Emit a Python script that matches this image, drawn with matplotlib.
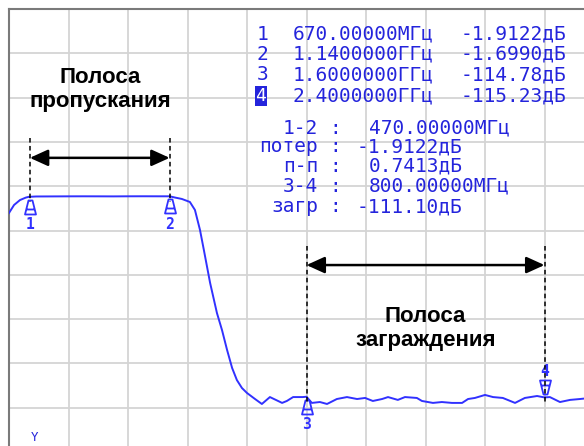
import matplotlib
matplotlib.use('Agg')
import matplotlib.pyplot as plt
import numpy as np
from matplotlib.path import Path

# trace (frequency in MHz, level in dB)
freq_mhz = [600, 617, 637, 657, 667, 691, 720, 760, 800, 850, 900, 950, 1000, 1050,
            1100, 1140, 1158, 1181, 1208, 1225, 1242, 1255, 1276, 1299, 1316, 1333,
            1350, 1366, 1383, 1400, 1427, 1450, 1477, 1497, 1518, 1534, 1555, 1588,
            1600, 1618, 1645, 1669, 1702, 1736, 1770, 1797, 1823, 1854, 1874, 1907,
            1931, 1971, 1988, 2025, 2055, 2089, 2123, 2143, 2166, 2200, 2227, 2260,
            2301, 2334, 2375, 2400, 2418, 2452, 2486, 2519, 2553]
level_db = [-11.1, -6.6, -3.8, -2.4, -2.0, -1.8, -1.78, -1.75, -1.72, -1.7, -1.72,
            -1.75, -1.7, -1.68, -1.7, -1.7, -2.4, -3.2, -4.9, -9.4, -20.7, -32.0,
            -50.6, -67.6, -77.2, -88.4, -98.6, -105.4, -109.9, -112.7, -116.1, -118.9,
            -115.0, -116.6, -118.3, -117.2, -115.0, -115.0, -114.8, -118.3, -117.8,
            -118.9, -116.1, -115.0, -116.1, -115.5, -117.2, -116.1, -115.0, -116.6,
            -115.0, -115.5, -117.2, -118.3, -117.8, -118.3, -118.3, -116.1, -115.5,
            -113.8, -115.0, -115.5, -118.3, -115.5, -114.4, -115.2, -115.0, -117.8,
            -116.6, -116.1, -115.5]

# markers
marker_ids = ['1', '2', '3', '4']
marker_freq = [670, 1140, 1600, 2400]
marker_db = [-1.9122, -1.6990, -114.78, -115.23]
marker_freq_txt = ['670.00000МГц', '1.1400000ГГц', '1.6000000ГГц', '2.4000000ГГц']
marker_db_txt = ['-1.9122дБ', '-1.6990дБ', '-114.78дБ', '-115.23дБ']

stat_labels = ['1-2', 'потер', 'п-п', '3-4', 'загр']
stat_values = ['470.00000МГц', '-1.9122дБ', '0.7413дБ', '800.00000МГц', '-111.10дБ']

pass_band = (670, 1140)
stop_band = (1600, 2400)
pass_arrow_db = 20
stop_arrow_db = -40.5

W, H = 584, 446
BLUE = '#3131ff'
TXT_BLUE = '#2424dc'


def px(x, y):
    return x / W, 1 - y / H


fig = plt.figure(figsize=(W / 100, H / 100), dpi=100)
ax = fig.add_axes([9 / W, (H - 452) / H, 595 / W, 443 / H])
ax.set_xlim(600, 2600)
ax.set_ylim(-146, 104)
ax.set_xticks(np.arange(600, 2601, 200))
ax.set_yticks(np.arange(-146, 105, 25))
ax.tick_params(length=0, labelbottom=False, labelleft=False)
ax.grid(True, color='#d4d4d4', linewidth=1.3)
ax.set_axisbelow(True)
for side in ['left', 'top']:
    ax.spines[side].set_color('#7a7a7a')
    ax.spines[side].set_linewidth(1.5)
for side in ['right', 'bottom']:
    ax.spines[side].set_visible(False)

# trace
ax.plot(freq_mhz, level_db, color=BLUE, linewidth=1.4, zorder=3)

# marker glyphs (px units, apex at the trace)
verts = [(-2, -3), (-5.5, -17), (5.5, -17), (2, -3), (-2, -3), (-4.5, -12), (4.5, -12)]
codes = [Path.MOVETO, Path.LINETO, Path.LINETO, Path.LINETO, Path.CLOSEPOLY,
         Path.MOVETO, Path.LINETO]
below = Path(verts, codes)
above = Path([(x, -y) for x, y in verts], codes)
ms = 2 * 17 * 0.72

for mid, f, db in zip(marker_ids, marker_freq, marker_db):
    up = mid == '4'
    ax.plot([f], [db], marker=above if up else below, markersize=ms,
            markerfacecolor='none', markeredgecolor=BLUE, markeredgewidth=1.3, zorder=4)
    ax.annotate(mid, (f, db), xytext=(0, 19 if up else -20), textcoords='offset points',
                ha='center', va='center', color=BLUE, fontsize=10.5,
                family='DejaVu Sans Mono', fontweight='bold')
    top = pass_arrow_db if f in pass_band else stop_arrow_db
    ax.plot([f, f], [top + 11, db - 3], color='black', linestyle=(0, (3, 2.2)),
            linewidth=1.1, zorder=5)

for (f0, f1), lev in [(pass_band, pass_arrow_db), (stop_band, stop_arrow_db)]:
    ax.annotate('', xy=(f1, lev), xytext=(f0, lev),
                arrowprops=dict(arrowstyle='<|-|>,head_length=0.55,head_width=0.25',
                                color='black', lw=1.8, mutation_scale=20,
                                shrinkA=0, shrinkB=0))

ax.text(906, 58.6, 'Полоса\nпропускания', ha='center', va='center', fontsize=16,
        fontweight='bold', family='Liberation Sans', linespacing=1.2)
ax.text(2000, -76.3, 'Полоса\nзаграждения', ha='center', va='center', fontsize=16,
        fontweight='bold', family='Liberation Sans', linespacing=1.2)

# marker readout
mono = dict(family='DejaVu Sans Mono', fontsize=14, color=TXT_BLUE, va='center')
rows_y = [34, 54, 75, 96]
for i, y in enumerate(rows_y):
    if marker_ids[i] == '4':
        fig.text(*px(261, y), marker_ids[i], ha='center', color='white',
                 family='DejaVu Sans Mono', fontsize=13, va='center',
                 bbox=dict(boxstyle='square,pad=0.05', fc=TXT_BLUE, ec='none'))
    else:
        fig.text(*px(257, y), marker_ids[i], ha='left', **mono)
    fig.text(*px(293, y), marker_freq_txt[i], ha='left', **mono)
    fig.text(*px(461, y), marker_db_txt[i], ha='left', **mono)

stat_y = [128, 147, 166, 186, 207]
for lab, val, y in zip(stat_labels, stat_values, stat_y):
    fig.text(*px(318, y), lab, ha='right', **mono)
    fig.text(*px(335, y), ':', ha='center', **mono)
    x0 = 357 if val.startswith('-') else 369
    fig.text(*px(x0, y), val, ha='left', **mono)

# partly hidden label at the bottom edge
fig.text(*px(35, 444), 'Y', ha='center', va='bottom', color=TXT_BLUE,
         family='DejaVu Sans Mono', fontsize=9)

fig.savefig('out.png', dpi=100, facecolor='white')
